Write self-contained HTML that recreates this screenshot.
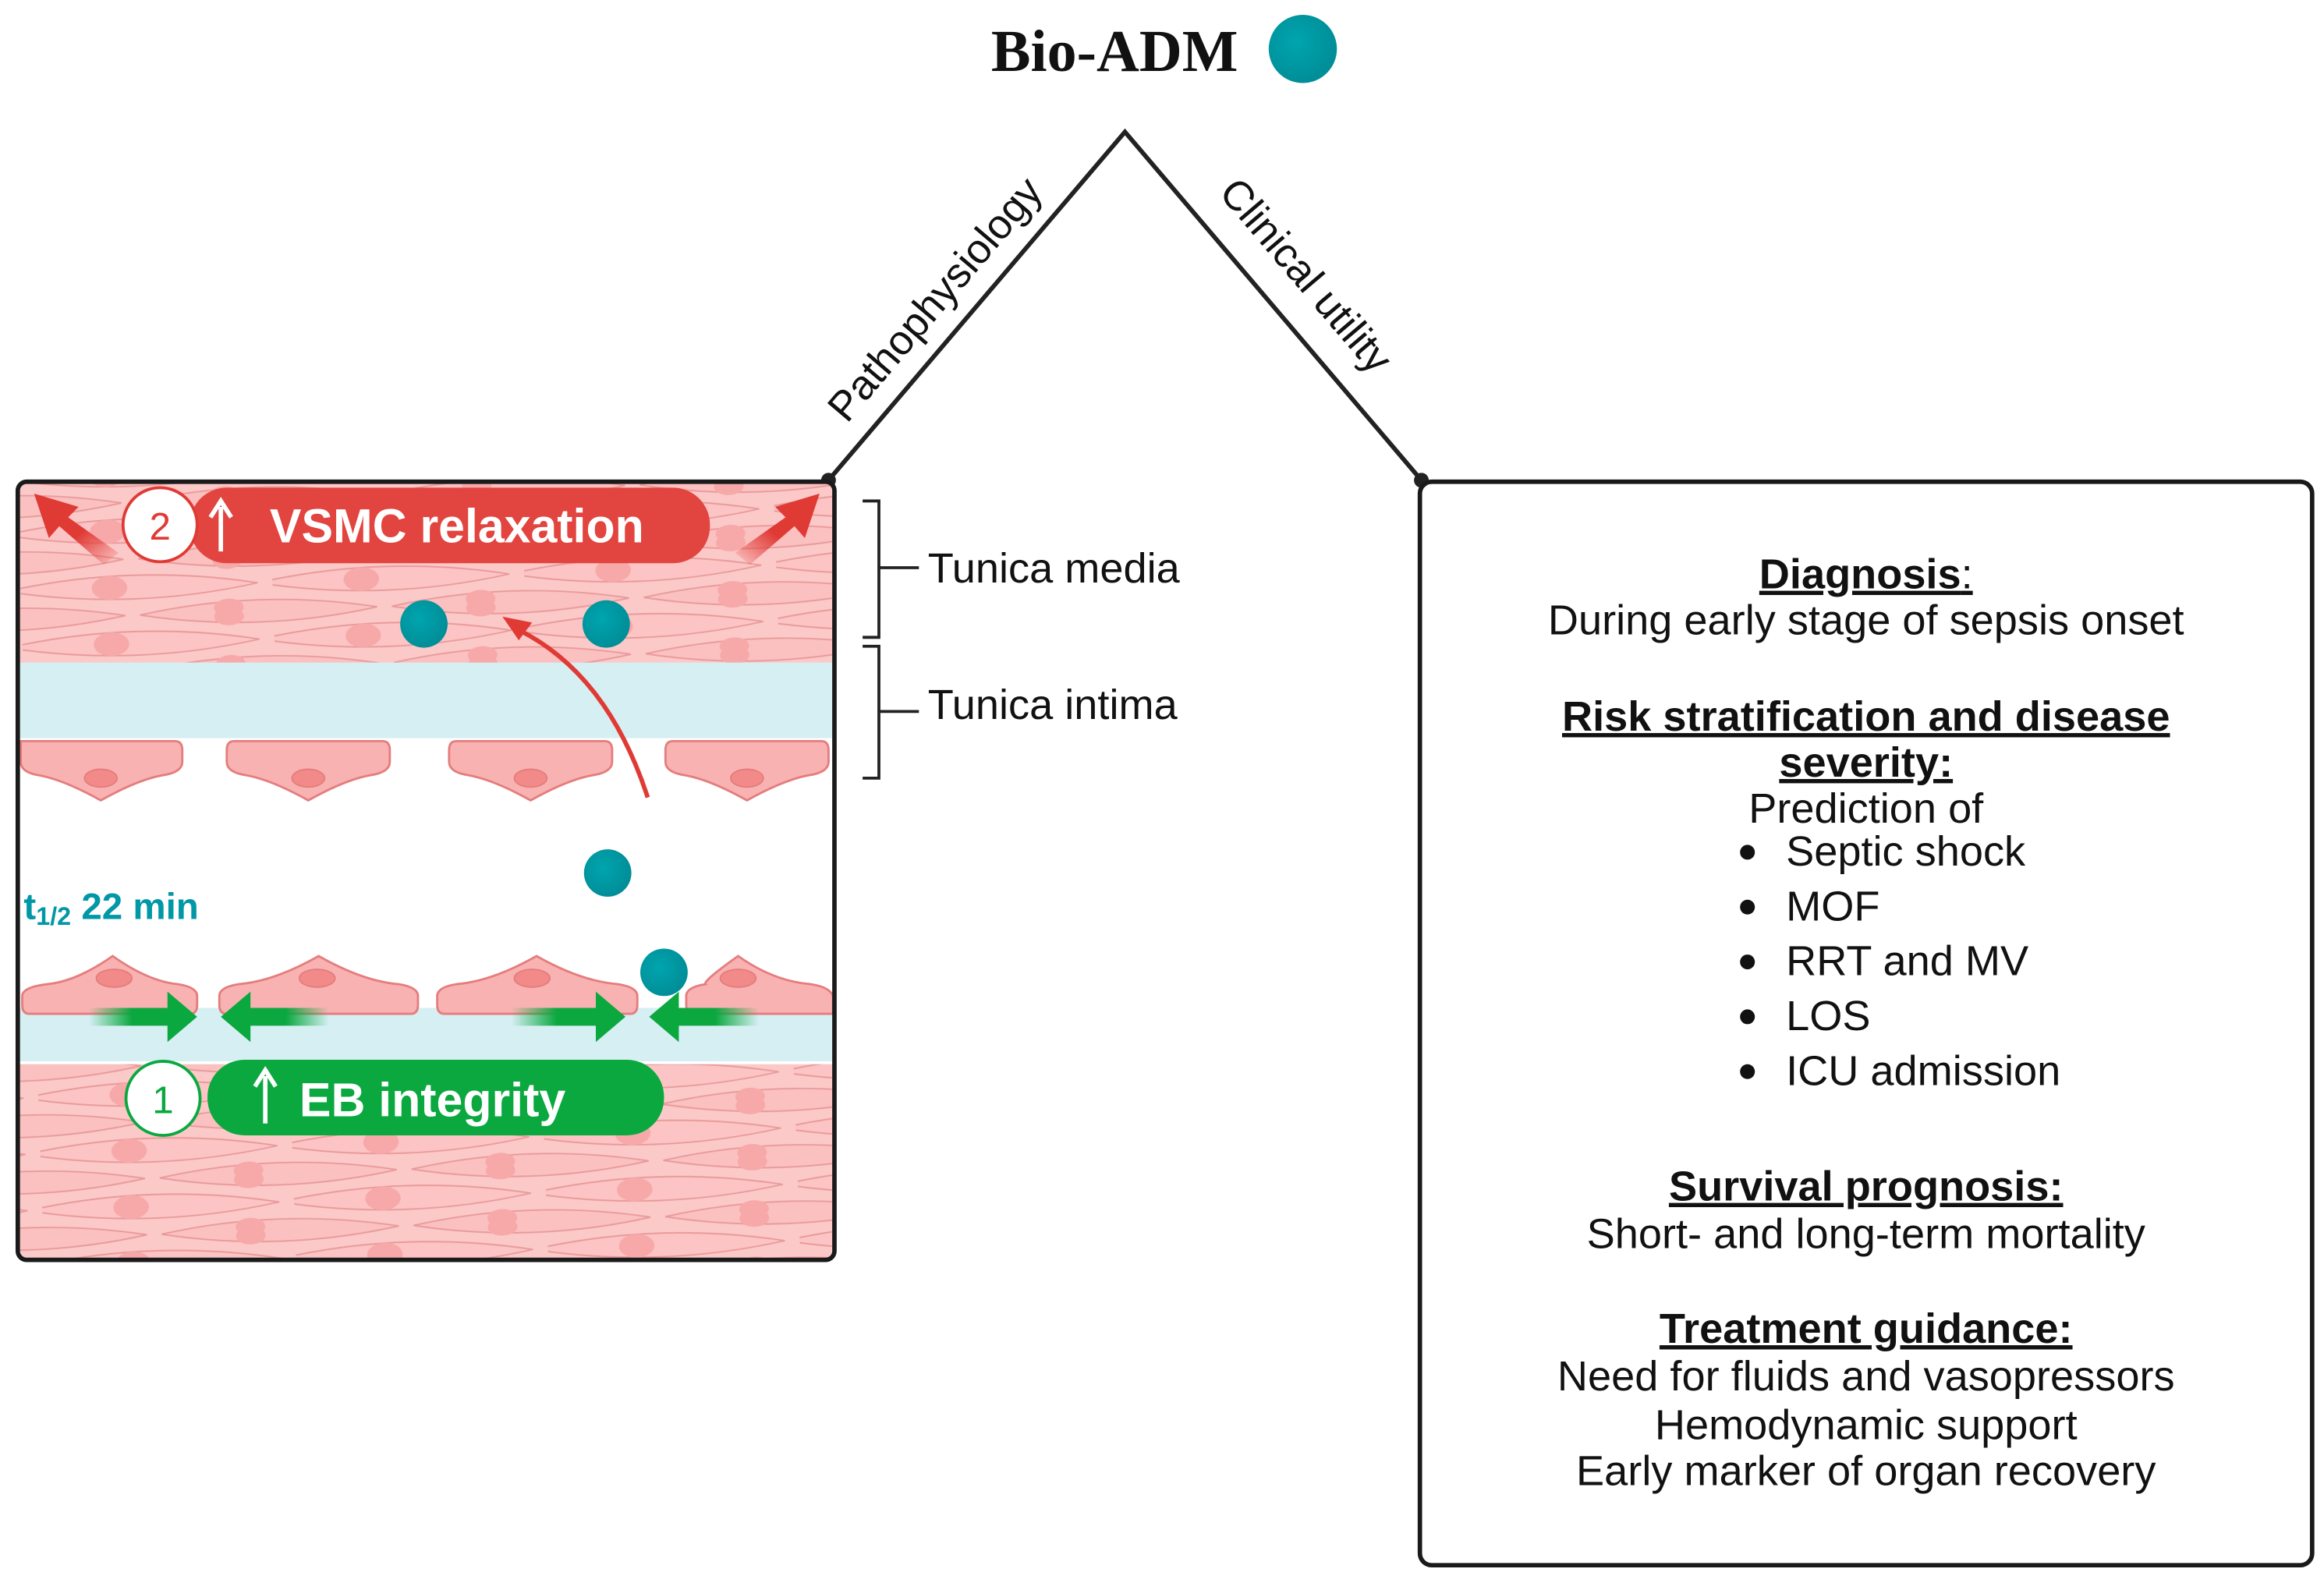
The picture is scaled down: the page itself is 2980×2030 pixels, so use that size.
<!DOCTYPE html>
<html><head><meta charset="utf-8"><style>html,body{margin:0;padding:0;background:#fff}svg{display:block}</style></head>
<body>
<svg width="2980" height="2030" viewBox="0 0 1568 1068" preserveAspectRatio="none" xmlns="http://www.w3.org/2000/svg" font-family="Liberation Sans, sans-serif">
<defs>
<pattern id="m" width="170" height="38" patternUnits="userSpaceOnUse" patternTransform="rotate(-2)">
<rect width="170" height="38" fill="#fcc9c9"/>
<path d="M-10,19 Q75,3 160,19 Q75,35 -10,19Z" fill="#fcc4c4" stroke="#e99a9a" stroke-width="1"/>
<path d="M80,0 Q160,-15 240,0 Q160,15 80,0Z" fill="#fbc0c0" stroke="#e99a9a" stroke-width="1"/>
<path d="M80,38 Q160,23 240,38 Q160,53 80,38Z" fill="#fbc0c0" stroke="#e99a9a" stroke-width="1"/>
<path d="M-90,0 Q-10,-15 70,0 Q-10,15 -90,0Z" fill="#fbc0c0" stroke="#e99a9a" stroke-width="1"/>
<path d="M-90,38 Q-10,23 70,38 Q-10,53 -90,38Z" fill="#fbc0c0" stroke="#e99a9a" stroke-width="1"/>
<ellipse cx="60" cy="19" rx="12" ry="8" fill="#f7a9a9"/>
<ellipse cx="140" cy="3" rx="10" ry="6" fill="#f7a9a9"/>
<ellipse cx="140" cy="35" rx="10" ry="6" fill="#f7a9a9"/>
</pattern>
<linearGradient id="gl" x1="0" x2="1"><stop offset="0" stop-color="#0aa83f" stop-opacity="0"/><stop offset="0.4" stop-color="#0aa83f"/></linearGradient>
<linearGradient id="gr" x1="1" x2="0"><stop offset="0" stop-color="#0aa83f" stop-opacity="0"/><stop offset="0.4" stop-color="#0aa83f"/></linearGradient>
<linearGradient id="rl" x1="1" y1="1" x2="0" y2="0"><stop offset="0" stop-color="#e03a35" stop-opacity="0"/><stop offset="0.45" stop-color="#e03a35"/></linearGradient>
<linearGradient id="rr" x1="0" y1="1" x2="1" y2="0"><stop offset="0" stop-color="#e03a35" stop-opacity="0"/><stop offset="0.45" stop-color="#e03a35"/></linearGradient>
<radialGradient id="dot" cx="0.4" cy="0.4" r="0.6"><stop offset="0" stop-color="#00a5ae"/><stop offset="1" stop-color="#008e98"/></radialGradient>
<clipPath id="bx"><rect x="13" y="326" width="549" height="523" rx="6"/></clipPath>
</defs>

<text x="752" y="48" text-anchor="middle" font-family="Liberation Serif, serif" font-weight="bold" font-size="40" fill="#111">Bio-ADM</text>
<circle cx="879" cy="33" r="23" fill="url(#dot)"/>

<polyline points="559,324 759,89 959,324" fill="none" stroke="#222" stroke-width="3"/>
<circle cx="559" cy="324" r="5" fill="#222"/>
<circle cx="959" cy="324" r="5" fill="#222"/>
<text transform="translate(638,208) rotate(-49.6)" text-anchor="middle" font-size="28" fill="#111">Pathophysiology</text>
<text transform="translate(874,192) rotate(49.6)" text-anchor="middle" font-size="28" fill="#111">Clinical utility</text>

<g clip-path="url(#bx)">
<rect x="10" y="320" width="560" height="540" fill="#fff"/>
<rect x="10" y="320" width="560" height="128" fill="url(#m)"/>
<rect x="10" y="447" width="560" height="51" fill="#d6eff3"/>
<rect x="10" y="718" width="560" height="140" fill="url(#m)"/>
<rect x="10" y="680" width="560" height="36" fill="#d6eff3"/>
<g fill="#f9b2b2" stroke="#e57d7d" stroke-width="1.5">
<path d="M14,500 H118 Q123,500 123,506 V514 Q123,521 110,523 Q93,526 68,540 Q43,526 26,523 Q14,521 14,514Z"/>
<path d="M158,500 H258 Q263,500 263,506 V514 Q263,521 250,523 Q233,526 208,540 Q183,526 166,523 Q153,521 153,514 V506 Q153,500 158,500Z"/>
<path d="M308,500 H408 Q413,500 413,506 V514 Q413,521 400,523 Q383,526 358,540 Q333,526 316,523 Q303,521 303,514 V506 Q303,500 308,500Z"/>
<path d="M454,500 H554 Q559,500 559,506 V514 Q559,521 546,523 Q529,526 504,540 Q479,526 462,523 Q449,521 449,514 V506 Q449,500 454,500Z"/>
</g>
<g fill="#f28a8a" stroke="#e57d7d"><ellipse cx="68" cy="525" rx="11" ry="6"/><ellipse cx="208" cy="525" rx="11" ry="6"/><ellipse cx="358" cy="525" rx="11" ry="6"/><ellipse cx="504" cy="525" rx="11" ry="6"/></g>
<g fill="#f9b2b2" stroke="#e57d7d" stroke-width="1.5">
<path d="M20,684 H128 Q133,684 133,678 V672 Q133,666 120,664 Q100,662 76,645 Q52,662 32,664 Q15,666 15,672 V678 Q15,684 20,684Z"/>
<path d="M153,684 H277 Q282,684 282,678 V672 Q282,666 269,664 Q245,662 215,645 Q185,662 161,664 Q148,666 148,672 V678 Q148,684 153,684Z"/>
<path d="M300,684 H425 Q430,684 430,678 V672 Q430,666 417,664 Q392,662 362,645 Q332,662 308,664 Q295,666 295,672 V678 Q295,684 300,684Z"/>
<path d="M468,684 H562 V672 Q560,666 547,664 Q522,662 498,645 Q474,662 476,664 Q463,666 463,672 V678 Q463,684 468,684Z"/>
</g>
<g fill="#f28a8a" stroke="#e57d7d"><ellipse cx="77" cy="660" rx="12" ry="6"/><ellipse cx="214" cy="660" rx="12" ry="6"/><ellipse cx="359" cy="660" rx="12" ry="6"/><ellipse cx="498" cy="660" rx="12" ry="6"/></g>
<path d="M60,680 H113 V669 L133,686 L113,703 V692 H60Z" fill="url(#gl)"/>
<path d="M222,680 H169 V669 L149,686 L169,703 V692 H222Z" fill="url(#gr)"/>
<path d="M345,680 H402 V669 L422,686 L402,703 V692 H345Z" fill="url(#gl)"/>
<path d="M512,680 H458 V669 L438,686 L458,703 V692 H512Z" fill="url(#gr)"/>
<path d="M70,381 L40,355 L33,363 L23,333 L53,342 L46,349 L80,373Z" fill="url(#rl)"/>
<path d="M506,381 L536,355 L543,363 L553,333 L523,342 L530,349 L496,373Z" fill="url(#rr)"/>
</g>
<rect x="12" y="325" width="551" height="525" rx="6" fill="none" stroke="#1a1a1a" stroke-width="3"/>

<rect x="128" y="329" width="351" height="51" rx="25" fill="#e2443f"/>
<circle cx="108" cy="354" r="25" fill="#fff" stroke="#e03a35" stroke-width="2"/>
<text x="108" y="364" text-anchor="middle" font-size="26" fill="#e03a35">2</text>
<path d="M149,372 V342 M142,349 L149,338 L156,349" stroke="#fff" stroke-width="3" fill="none"/>
<text x="182" y="366" font-size="32" font-weight="bold" fill="#fff">VSMC relaxation</text>

<rect x="140" y="715" width="308" height="51" rx="25" fill="#0aa83f"/>
<circle cx="110" cy="741" r="25" fill="#fff" stroke="#0aa83f" stroke-width="2"/>
<text x="110" y="751" text-anchor="middle" font-size="26" fill="#0aa83f">1</text>
<path d="M179,758 V726 M172,733 L179,722 L186,733" stroke="#fff" stroke-width="3" fill="none"/>
<text x="202" y="753" font-size="32" font-weight="bold" fill="#fff">EB integrity</text>

<text x="16" y="620" font-size="25" font-weight="bold" fill="#0097a7">t<tspan font-size="17" dy="4">1/2</tspan><tspan dy="-4"> 22 min</tspan></text>

<path d="M437,538 Q410,455 350,425" stroke="#e03a35" stroke-width="3" fill="none"/>
<path d="M339,416 L359,420 L350,432Z" fill="#e03a35"/>

<circle cx="286" cy="421" r="16" fill="url(#dot)"/>
<circle cx="409" cy="421" r="16" fill="url(#dot)"/>
<circle cx="410" cy="589" r="16" fill="url(#dot)"/>
<circle cx="448" cy="656" r="16" fill="url(#dot)"/>

<g stroke="#222" stroke-width="2" fill="none">
<polyline points="582,338 593,338 593,430 582,430"/><line x1="593" y1="383" x2="620" y2="383"/>
<polyline points="582,436 593,436 593,525 582,525"/><line x1="593" y1="480" x2="620" y2="480"/>
</g>
<text x="626" y="393" font-size="28.5" fill="#111">Tunica media</text>
<text x="626" y="485" font-size="28.5" fill="#111">Tunica intima</text>

<rect x="958" y="325" width="602" height="731" rx="8" fill="none" stroke="#1a1a1a" stroke-width="3"/>
<g font-size="28.5" fill="#111" text-anchor="middle">
<text x="1259" y="397" font-weight="bold" text-decoration="underline">Diagnosis<tspan font-weight="normal">:</tspan></text>
<text x="1259" y="428">During early stage of sepsis onset</text>
<text x="1259" y="493" font-weight="bold" text-decoration="underline">Risk stratification and disease </text>
<text x="1259" y="524" font-weight="bold" text-decoration="underline">severity:</text>
<text x="1259" y="555">Prediction of</text>
<text x="1259" y="810" font-weight="bold" text-decoration="underline">Survival prognosis:</text>
<text x="1259" y="842">Short- and long-term mortality</text>
<text x="1259" y="906" font-weight="bold" text-decoration="underline">Treatment guidance<tspan>:</tspan></text>
<text x="1259" y="938">Need for fluids and vasopressors</text>
<text x="1259" y="971">Hemodynamic support</text>
<text x="1259" y="1002">Early marker of organ recovery</text>
</g>
<g font-size="28.5" fill="#111">
<text x="1205" y="584">Septic shock</text>
<text x="1205" y="621">MOF</text>
<text x="1205" y="658">RRT and MV</text>
<text x="1205" y="695">LOS</text>
<text x="1205" y="732">ICU admission</text>
</g>
<g fill="#111"><circle cx="1179" cy="575" r="5"/><circle cx="1179" cy="612" r="5"/><circle cx="1179" cy="649" r="5"/><circle cx="1179" cy="686" r="5"/><circle cx="1179" cy="723" r="5"/></g>
</svg>
</body></html>
